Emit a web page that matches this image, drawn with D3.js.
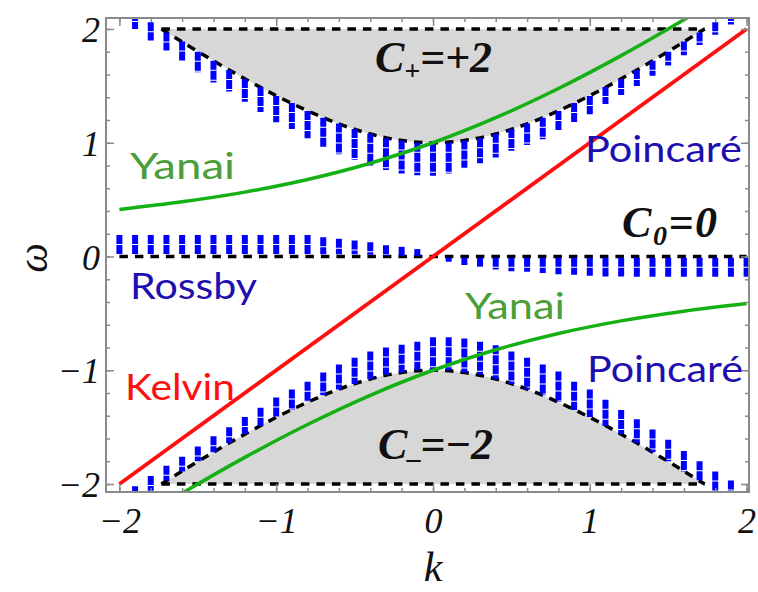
<!DOCTYPE html>
<html>
<head>
<meta charset="utf-8">
<script src="https://cdn.jsdelivr.net/npm/d3@7"></script>
<style>
  body { margin: 0; background: #fff; }
  .tick text { font-family: "Liberation Serif", serif; font-style: italic; font-size: 36px; fill: #111; }
  .wave { font-family: "Lato", sans-serif; font-size: 37px; }
  .chern { font-family: "Liberation Serif", serif; font-style: italic; font-weight: bold; font-size: 44px; fill: #111; }
</style>
</head>
<body>
<script>
// Band edges sqrt(k^2+1)
const edgeK = [-1.732, -1.6, -1.4, -1.2, -1.0, -0.8, -0.6, -0.4, -0.2, 0, 0.2, 0.4, 0.6, 0.8, 1.0, 1.2, 1.4, 1.6, 1.732];
const edgeUpper = [2.0, 1.887, 1.720, 1.562, 1.414, 1.281, 1.166, 1.077, 1.020, 1.0, 1.020, 1.077, 1.166, 1.281, 1.414, 1.562, 1.720, 1.887, 2.0];
const edgeLower = [-2.0, -1.887, -1.720, -1.562, -1.414, -1.281, -1.166, -1.077, -1.020, -1.0, -1.020, -1.077, -1.166, -1.281, -1.414, -1.562, -1.720, -1.887, -2.0];

// Yanai branches (green)
const yanaiK = [-2, -1.6, -1.2, -0.8, -0.4, 0, 0.4, 0.8, 1.2, 1.6, 2.0];
const yanaiUpper = [0.414, 0.481, 0.566, 0.677, 0.820, 1.0, 1.220, 1.477, 1.766, 2.081, 2.414];
const yanaiLower = [-2.414, -2.081, -1.766, -1.477, -1.220, -1.0, -0.820, -0.677, -0.566, -0.481, -0.414];

// Kelvin (red)
const kelvinK = [-2, 2];
const kelvinW = [-2, 2];

// Numerical spectrum columns (blue), one column per k
const colK = [-1.9, -1.8, -1.7, -1.6, -1.5, -1.4, -1.3, -1.2, -1.1, -1.0, -0.9, -0.8, -0.7, -0.6, -0.5, -0.4, -0.3, -0.2, -0.1, 0,
              0.1, 0.2, 0.3, 0.4, 0.5, 0.6, 0.7, 0.8, 0.9, 1.0, 1.1, 1.2, 1.3, 1.4, 1.5, 1.6, 1.7, 1.8, 1.9];
const poincUpTop = [2.15, 2.06, 1.97, 1.89, 1.80, 1.72, 1.64, 1.56, 1.49, 1.41, 1.35, 1.28, 1.22, 1.17, 1.12, 1.08, 1.04, 1.02, 1.00, 1.00,
                    1.00, 1.02, 1.04, 1.08, 1.12, 1.17, 1.22, 1.28, 1.35, 1.41, 1.49, 1.56, 1.64, 1.72, 1.80, 1.89, 1.97, 2.06, 2.15];
const poincUpBot = [2.00, 1.90, 1.81, 1.72, 1.62, 1.53, 1.45, 1.36, 1.27, 1.18, 1.12, 1.04, 0.96, 0.90, 0.85, 0.80, 0.76, 0.73, 0.715, 0.71,
                    0.73, 0.78, 0.82, 0.87, 0.93, 0.98, 1.03, 1.11, 1.18, 1.25, 1.34, 1.42, 1.50, 1.59, 1.68, 1.77, 1.86, 1.95, 2.04];
const poincLoTop = [-2.02, -1.93, -1.84, -1.76, -1.67, -1.58, -1.50, -1.41, -1.33, -1.24, -1.17, -1.10, -1.02, -0.95, -0.89, -0.835, -0.80, -0.775, -0.75, -0.71,
                    -0.71, -0.72, -0.75, -0.78, -0.835, -0.89, -0.95, -1.01, -1.10, -1.17, -1.26, -1.35, -1.43, -1.52, -1.61, -1.71, -1.80, -1.89, -1.97];
const poincLoBot = [-2.15, -2.06, -1.97, -1.89, -1.80, -1.72, -1.64, -1.56, -1.49, -1.41, -1.35, -1.28, -1.22, -1.17, -1.12, -1.08, -1.04, -1.02, -1.00, -1.00,
                    -1.00, -1.02, -1.04, -1.08, -1.12, -1.17, -1.22, -1.28, -1.35, -1.41, -1.49, -1.56, -1.64, -1.72, -1.80, -1.89, -1.97, -2.06, -2.15];

const rossbyK = [-2.0, -1.9, -1.8, -1.7, -1.6, -1.5, -1.4, -1.3, -1.2, -1.1, -1.0, -0.9, -0.8, -0.7, -0.6, -0.5, -0.4, -0.3, -0.2, -0.1,
                 0.1, 0.2, 0.3, 0.4, 0.5, 0.6, 0.7, 0.8, 0.9, 1.0, 1.1, 1.2, 1.3, 1.4, 1.5, 1.6, 1.7, 1.8, 1.9, 2.0];
const rossbyTop = [0.19, 0.19, 0.19, 0.19, 0.19, 0.19, 0.19, 0.19, 0.19, 0.19, 0.19, 0.19, 0.19, 0.17, 0.155, 0.14, 0.125, 0.10, 0.085, 0.065,
                   -0.01, -0.01, -0.01, -0.01, -0.01, -0.01, -0.01, -0.01, -0.01, -0.01, -0.01, -0.01, -0.01, -0.01, -0.01, -0.01, -0.01, -0.01, -0.01, -0.01];
const rossbyBot = [0.02, 0.02, 0.02, 0.02, 0.02, 0.02, 0.02, 0.02, 0.02, 0.02, 0.02, 0.02, 0.02, 0.02, 0.02, 0.02, 0.015, 0.005, 0.005, 0.005,
                   -0.046, -0.075, -0.09, -0.115, -0.13, -0.135, -0.145, -0.155, -0.16, -0.17, -0.175, -0.175, -0.18, -0.18, -0.18, -0.18, -0.18, -0.18, -0.18, -0.18];

const majorTicks = [-2, -1, 0, 1, 2];

const width = 758, height = 592;
const frame = { left: 106, right: 749, top: 18, bottom: 492 };

const svg = d3.select("body").append("svg")
    .attr("width", width)
    .attr("height", height);

const x = d3.scaleLinear().domain([-2, 2]).range([119.4, 746.6]);
const y = d3.scaleLinear().domain([-2, 2]).range([484, 29]);

svg.append("clipPath").attr("id", "clip")
  .append("rect")
    .attr("x", frame.left).attr("y", frame.top)
    .attr("width", frame.right - frame.left)
    .attr("height", frame.bottom - frame.top);

const plot = svg.append("g").attr("clip-path", "url(#clip)");

const zip = (ks, ws) => ks.map((k, i) => [k, ws[i]]);

// gray gapped regions
const areaTop = d3.area().x(d => x(d[0])).y0(y(2)).y1(d => y(d[1])).curve(d3.curveCatmullRom);
const areaBot = d3.area().x(d => x(d[0])).y0(y(-2)).y1(d => y(d[1])).curve(d3.curveCatmullRom);
plot.append("path").datum(zip(edgeK, edgeUpper)).attr("d", areaTop).attr("fill", "#d7d7d7");
plot.append("path").datum(zip(edgeK, edgeLower)).attr("d", areaBot).attr("fill", "#d7d7d7");

// dashed band edges
const line = d3.line().x(d => x(d[0])).y(d => y(d[1]));
const smooth = d3.line().x(d => x(d[0])).y(d => y(d[1])).curve(d3.curveCatmullRom);
const dashed = g => g.attr("fill", "none").attr("stroke", "#000")
    .attr("stroke-width", 3.5).attr("stroke-dasharray", "8.5,7");

plot.append("path").datum(zip(edgeK, edgeUpper)).attr("d", smooth).call(dashed);
plot.append("path").datum(zip(edgeK, edgeLower)).attr("d", smooth).call(dashed);
plot.append("path").datum([[edgeK[0], 2], [edgeK[edgeK.length - 1], 2]]).attr("d", line).call(dashed);
plot.append("path").datum([[edgeK[0], -2], [edgeK[edgeK.length - 1], -2]]).attr("d", line).call(dashed);
plot.append("path").datum([[-2, 0], [2, 0]]).attr("d", line).call(dashed);

// blue eigenvalue columns
function drawColumns(ks, tops, bots) {
    plot.append("g").selectAll("line")
        .data(ks.map((k, i) => ({ k: k, top: tops[i], bot: bots[i] })))
        .join("line")
        .attr("x1", d => x(d.k)).attr("x2", d => x(d.k))
        .attr("y1", d => y(d.top)).attr("y2", d => y(d.bot))
        .attr("stroke", "#0000ff")
        .attr("stroke-width", 6)
        .attr("stroke-dasharray", "9,1");
}
drawColumns(colK, poincUpTop, poincUpBot);
drawColumns(colK, poincLoTop, poincLoBot);
drawColumns(rossbyK, rossbyTop, rossbyBot);

// Yanai and Kelvin curves
plot.append("path").datum(zip(yanaiK, yanaiUpper)).attr("d", smooth)
    .attr("fill", "none").attr("stroke", "#14b014").attr("stroke-width", 3.5);
plot.append("path").datum(zip(yanaiK, yanaiLower)).attr("d", smooth)
    .attr("fill", "none").attr("stroke", "#14b014").attr("stroke-width", 3.5);
plot.append("path").datum(zip(kelvinK, kelvinW)).attr("d", line)
    .attr("fill", "none").attr("stroke", "#ff1010").attr("stroke-width", 3.8);

// frame + ticks (inside, all four sides)
const fmt = d => d < 0 ? "\u2212" + Math.abs(d) : String(d);
const minor = d3.range(-2, 2.01, 0.2).map(v => Math.round(v * 10) / 10);

function ticks(axisFn, scale, transform, labels) {
    const gMinor = svg.append("g").attr("transform", transform)
        .call(axisFn(scale).tickValues(minor).tickSize(-4).tickFormat(""));
    const gMajor = svg.append("g").attr("transform", transform)
        .call(axisFn(scale).tickValues(majorTicks).tickSize(-8).tickFormat(labels ? fmt : ""));
    [gMinor, gMajor].forEach(g => {
        g.select(".domain").remove();
        g.selectAll("line").attr("stroke", "#8a8a8a").attr("stroke-width", 1.5);
    });
    return gMajor;
}
const bottomAx = ticks(d3.axisBottom, x, `translate(0,${frame.bottom})`, true);
bottomAx.selectAll("text").attr("y", 41).attr("dy", null);
ticks(d3.axisTop, x, `translate(0,${frame.top})`, false);
const leftAx = ticks(d3.axisLeft, y, `translate(${frame.left},0)`, true);
leftAx.selectAll("text").attr("x", -6).attr("dy", "0.35em");
ticks(d3.axisRight, y, `translate(${frame.right},0)`, false);

svg.append("rect")
    .attr("x", frame.left).attr("y", frame.top)
    .attr("width", frame.right - frame.left)
    .attr("height", frame.bottom - frame.top)
    .attr("fill", "none").attr("stroke", "#8a8a8a").attr("stroke-width", 2);

// axis titles
svg.append("text")
    .attr("x", 433).attr("y", 581)
    .attr("text-anchor", "middle")
    .attr("font-family", "Liberation Serif").attr("font-style", "italic")
    .attr("font-size", 42).attr("fill", "#111")
    .text("k");
svg.append("text")
    .attr("transform", "translate(47,258) rotate(-90)")
    .attr("text-anchor", "middle")
    .attr("font-family", "Liberation Serif").attr("font-style", "italic")
    .attr("font-size", 42).attr("fill", "#111")
    .text("\u03c9");

// wave labels
function label(txt, x0, base, w, color) {
    svg.append("text").attr("class", "wave")
        .attr("x", x0).attr("y", base)
        .attr("textLength", w).attr("lengthAdjust", "spacingAndGlyphs")
        .attr("fill", color)
        .text(txt);
}
label("Yanai", 130, 179, 105, "#4c9f38");
label("Poincaré", 585, 162, 157, "#1e0fb0");
label("Rossby", 130, 299, 127, "#1e0fb0");
label("Yanai", 465, 319, 100, "#4c9f38");
label("Kelvin", 125, 400, 110, "#ff1010");
label("Poincaré", 587, 382, 156, "#1e0fb0");

// Chern numbers
function chern(sub, rest, x0, base, w) {
    const t = svg.append("text").attr("class", "chern").attr("x", x0).attr("y", base)
        .attr("textLength", w).attr("lengthAdjust", "spacing");
    t.append("tspan").text("C");
    t.append("tspan").attr("dy", 8).attr("font-size", 28).text(sub);
    t.append("tspan").attr("dy", -8).text(rest);
}
chern("+", "=+2", 375, 72, 117);
chern("0", "=0", 622, 237, 95);
chern("\u2013", "=\u22122", 378, 459, 115);
</script>
</body>
</html>
